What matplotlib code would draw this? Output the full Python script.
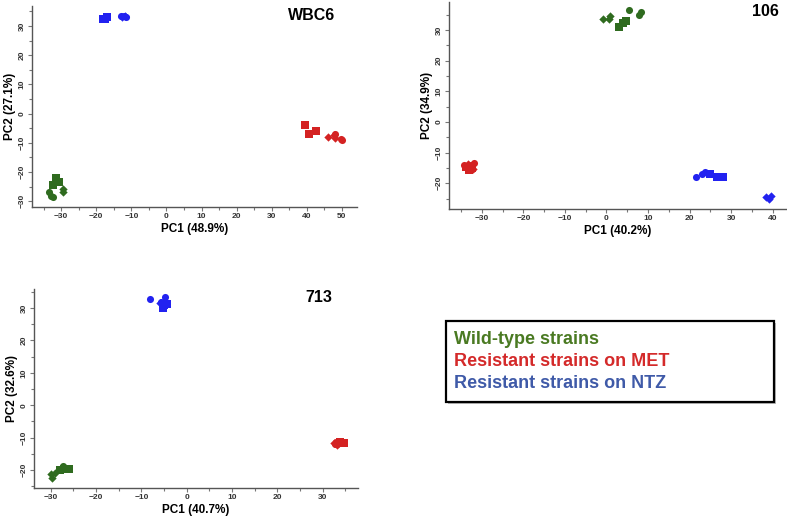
import numpy as np
import matplotlib.pyplot as plt
from matplotlib.patches import Rectangle
from matplotlib.ticker import MultipleLocator

plt.rcParams['font.family'] = ['Liberation Sans', 'DejaVu Sans']
plt.rcParams['font.weight'] = 'bold'

GREEN = '#2f6b1f'
RED = '#d42222'
BLUE = '#2222f0'

# WBC6 panel: (x list, y list) per strain group and marker
wbc6_wt_sq = ([-31.5, -32.2, -30.6], [-22.2, -24.4, -23.4])
wbc6_wt_ci = ([-33.6, -33.0, -32.4], [-27.0, -28.4, -28.6])
wbc6_wt_di = ([-29.6, -29.5], [-25.9, -27.0])
wbc6_met_sq = ([39.4, 40.6, 42.5], [-4.0, -7.0, -5.8])
wbc6_met_di = ([46.0, 47.8, 48.0], [-8.0, -7.4, -8.5])
wbc6_met_ci = ([47.9, 49.8, 50.0], [-7.0, -8.6, -9.2])
wbc6_ntz_sq = ([-18.2, -17.0, -17.6], [32.4, 33.0, 32.5])
wbc6_ntz_ci = ([-13.0, -12.2, -11.6], [33.4, 33.6, 33.0])
wbc6_ntz_di = ([-12.6, -11.8], [33.2, 33.4])

# 106 panel
p106_wt_di = ([-0.9, 0.6, 0.9], [33.7, 33.5, 34.4])
p106_wt_sq = ([2.9, 4.0, 4.6], [31.0, 32.2, 33.0])
p106_wt_ci = ([5.4, 7.8, 8.4], [36.5, 34.8, 36.0])
p106_met_sq = ([-33.8, -33.0, -32.4], [-14.8, -15.6, -15.0])
p106_met_ci = ([-34.4, -32.6, -31.8], [-14.2, -14.0, -13.4])
p106_met_di = ([-33.4, -32.2, -33.0], [-13.8, -15.2, -14.4])
p106_ntz_ci = ([21.5, 23.0, 23.6], [-17.8, -17.0, -16.3])
p106_ntz_sq = ([25.0, 26.6, 28.0], [-17.0, -18.0, -18.0])
p106_ntz_di = ([38.3, 39.0, 39.5], [-24.4, -25.0, -24.0])

# 713 panel
p713_wt_di = ([-30.0, -29.8, -29.0], [-21.4, -22.6, -21.0])
p713_wt_sq = ([-28.0, -27.0, -25.9], [-20.1, -19.6, -19.6])
p713_wt_ci = ([-27.2, -26.6, -27.6], [-18.8, -19.4, -19.6])
p713_met_di = ([32.4, 33.2, 33.6], [-11.6, -12.2, -11.8])
p713_met_sq = ([33.8, 34.6, 34.2], [-11.4, -11.8, -11.6])
p713_met_ci = ([33.0, 33.4, 32.8], [-11.4, -11.6, -11.9])
p713_ntz_ci = ([-8.0, -4.8, -5.6], [32.9, 33.4, 32.0])
p713_ntz_sq = ([-5.2, -4.4, -5.0], [30.0, 31.2, 31.0])
p713_ntz_di = ([-6.0, -5.4, -4.9], [31.6, 31.2, 32.0])

legend_labels = ['Wild-type strains', 'Resistant strains on MET', 'Resistant strains on NTZ']
legend_colors = ['#4a7a22', '#d42a2a', '#3f5aa8']

fig = plt.figure(figsize=(7.87, 5.18), dpi=100)


def panel(rect, title, xlab, ylab, xlim, ylim, groups, title_pos):
    ax = fig.add_axes(rect)
    for (xs, ys), color, mk in groups:
        ms = 26 if mk != 'D' else 18
        ax.scatter(xs, ys, s=ms, marker=mk, color=color, linewidths=0, zorder=3)
    ax.set_xlim(xlim)
    ax.set_ylim(ylim)
    ax.spines['top'].set_visible(False)
    ax.spines['right'].set_visible(False)
    for s in ['left', 'bottom']:
        ax.spines[s].set_color('#555555')
        ax.spines[s].set_linewidth(1.0)
    ax.xaxis.set_major_locator(MultipleLocator(10))
    ax.xaxis.set_minor_locator(MultipleLocator(5))
    ax.yaxis.set_major_locator(MultipleLocator(10))
    ax.yaxis.set_minor_locator(MultipleLocator(5))
    ax.tick_params(which='both', direction='out', color='#777777', labelsize=6,
                   labelcolor='#333333', width=0.8, pad=1.5)
    ax.tick_params(which='major', length=3)
    ax.tick_params(which='minor', length=2)
    for lab in ax.get_yticklabels():
        lab.set_rotation(90)
        lab.set_va('center')
    ax.set_xlabel(xlab, fontsize=8.5, fontweight='bold', labelpad=2)
    ax.set_ylabel(ylab, fontsize=8.5, fontweight='bold', labelpad=2)
    ax.text(title_pos[0], title_pos[1], title, transform=ax.transAxes,
            fontsize=11.5, fontweight='bold', ha='center', va='center')
    return ax


panel([0.0407, 0.6004, 0.4129, 0.3876], 'WBC6', 'PC1 (48.9%)', 'PC2 (27.1%)',
      (-38.3, 54.3), (-32.0, 36.8),
      [(wbc6_wt_sq, GREEN, 's'), (wbc6_wt_ci, GREEN, 'o'), (wbc6_wt_di, GREEN, 'D'),
       (wbc6_met_sq, RED, 's'), (wbc6_met_di, RED, 'D'), (wbc6_met_ci, RED, 'o'),
       (wbc6_ntz_sq, BLUE, 's'), (wbc6_ntz_ci, BLUE, 'o'), (wbc6_ntz_di, BLUE, 'D')],
      (0.86, 0.955))

panel([0.5705, 0.5965, 0.4282, 0.3995], '106', 'PC1 (40.2%)', 'PC2 (34.9%)',
      (-37.9, 43.2), (-28.4, 39.1),
      [(p106_wt_di, GREEN, 'D'), (p106_wt_sq, GREEN, 's'), (p106_wt_ci, GREEN, 'o'),
       (p106_met_sq, RED, 's'), (p106_met_ci, RED, 'o'), (p106_met_di, RED, 'D'),
       (p106_ntz_ci, BLUE, 'o'), (p106_ntz_sq, BLUE, 's'), (p106_ntz_di, BLUE, 'D')],
      (0.938, 0.956))

panel([0.0432, 0.0579, 0.4117, 0.3841], '713', 'PC1 (40.7%)', 'PC2 (32.6%)',
      (-33.7, 37.8), (-25.6, 35.9),
      [(p713_wt_di, GREEN, 'D'), (p713_wt_sq, GREEN, 's'), (p713_wt_ci, GREEN, 'o'),
       (p713_met_di, RED, 'D'), (p713_met_sq, RED, 's'), (p713_met_ci, RED, 'o'),
       (p713_ntz_ci, BLUE, 'o'), (p713_ntz_sq, BLUE, 's'), (p713_ntz_di, BLUE, 'D')],
      (0.88, 0.955))

# legend box
W, H = 787.0, 518.0
fig.patches.append(Rectangle((448 / W, 1 - 404 / H), 328 / W, 81 / H,
                             transform=fig.transFigure, facecolor='#bbbbbb',
                             edgecolor='none', zorder=1))
fig.patches.append(Rectangle((446 / W, 1 - 402 / H), 328 / W, 81 / H,
                             transform=fig.transFigure, facecolor='white',
                             edgecolor='black', linewidth=1.6, zorder=2))
for i, (lab, col) in enumerate(zip(legend_labels, legend_colors)):
    fig.text(454 / W, 1 - (340 + 22 * i) / H, lab, color=col, fontsize=13,
             fontweight='bold', va='center', ha='left', zorder=3)

fig.savefig('out.png', dpi=100)
